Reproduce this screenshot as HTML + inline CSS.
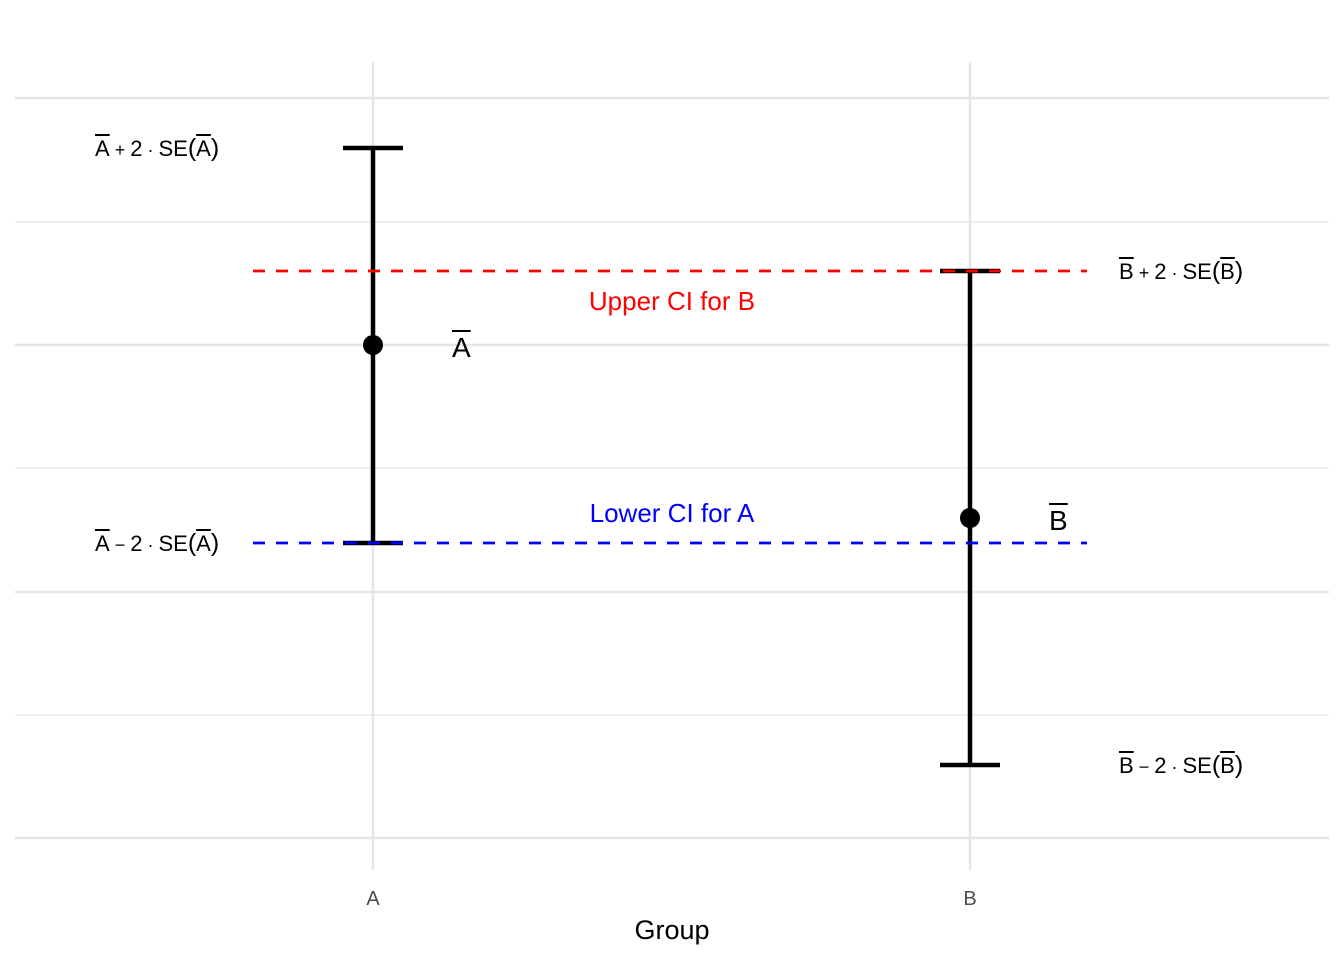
<!DOCTYPE html>
<html><head><meta charset="utf-8"><style>
body{margin:0;background:#fff;width:1344px;height:960px;overflow:hidden;position:relative;font-family:"Liberation Sans",sans-serif}
.l{position:absolute;font-size:22px;color:#000;white-space:nowrap;line-height:1}
.o{text-decoration:overline;text-decoration-thickness:1.5px}
.s{font-size:18px;padding:0 5px}
.p{font-size:25px}
</style></head><body>
<svg width="1344" height="960" style="position:absolute;left:0;top:0">
<g stroke="#e5e5e5">
<line x1="15" x2="1329" y1="222" y2="222" stroke-width="1.2"/>
<line x1="15" x2="1329" y1="468" y2="468" stroke-width="1.2"/>
<line x1="15" x2="1329" y1="715" y2="715" stroke-width="1.2"/>
<line x1="15" x2="1329" y1="98" y2="98" stroke-width="2.4"/>
<line x1="15" x2="1329" y1="345" y2="345" stroke-width="2.4"/>
<line x1="15" x2="1329" y1="592" y2="592" stroke-width="2.4"/>
<line x1="15" x2="1329" y1="838" y2="838" stroke-width="2.4"/>
<line x1="373" x2="373" y1="62" y2="870" stroke-width="2.4"/>
<line x1="970" x2="970" y1="62" y2="870" stroke-width="2.4"/>
</g>
<g stroke="#000" stroke-width="4.5">
<line x1="373" x2="373" y1="148" y2="543"/>
<line x1="343" x2="403" y1="148" y2="148"/>
<line x1="343" x2="403" y1="543" y2="543"/>
<line x1="970" x2="970" y1="271" y2="765"/>
<line x1="940" x2="1000" y1="271" y2="271"/>
<line x1="940" x2="1000" y1="765" y2="765"/>
</g>
<circle cx="373" cy="345" r="10"/>
<circle cx="970" cy="518" r="10"/>
<line x1="253" x2="1087" y1="271" y2="271" stroke="#ff0000" stroke-width="2.8" stroke-dasharray="12,11"/>
<line x1="253" x2="1087" y1="543" y2="543" stroke="#0000ff" stroke-width="2.8" stroke-dasharray="12,11"/>
<text x="672" y="310" fill="#ff0000" font-size="26" text-anchor="middle" font-family="Liberation Sans">Upper CI for B</text>
<text x="672" y="522" fill="#0000ff" font-size="26" text-anchor="middle" font-family="Liberation Sans">Lower CI for A</text>
<text x="373" y="905" fill="#4d4d4d" font-size="20" text-anchor="middle" font-family="Liberation Sans">A</text>
<text x="970" y="905" fill="#4d4d4d" font-size="20" text-anchor="middle" font-family="Liberation Sans">B</text>
<text x="672" y="939" fill="#000" font-size="27" text-anchor="middle" font-family="Liberation Sans">Group</text>
</svg>
<div class="l" style="left:95px;top:136px"><span class="o">A</span><span class="s">+</span>2<span class="s">·</span>SE<span class="p">(</span><span class="o">A</span><span class="p">)</span></div>
<div class="l" style="left:95px;top:531px"><span class="o">A</span><span class="s">−</span>2<span class="s">·</span>SE<span class="p">(</span><span class="o">A</span><span class="p">)</span></div>
<div class="l" style="left:1119px;top:259px"><span class="o">B</span><span class="s">+</span>2<span class="s">·</span>SE<span class="p">(</span><span class="o">B</span><span class="p">)</span></div>
<div class="l" style="left:1119px;top:753px"><span class="o">B</span><span class="s">−</span>2<span class="s">·</span>SE<span class="p">(</span><span class="o">B</span><span class="p">)</span></div>
<div class="l" style="left:452px;top:334px;font-size:28px"><span class="o">A</span></div>
<div class="l" style="left:1049px;top:507px;font-size:28px"><span class="o">B</span></div>
</body></html>
